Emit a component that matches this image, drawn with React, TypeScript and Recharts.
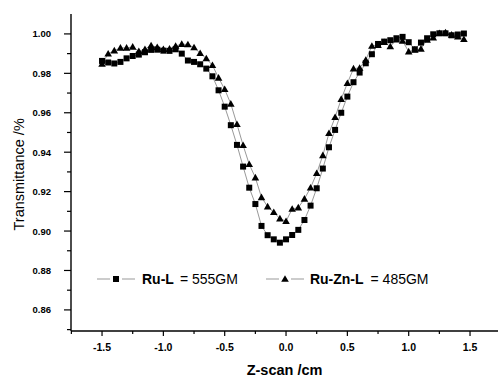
import React from 'react';
import { LineChart, Line, XAxis, YAxis, Legend } from 'recharts';

// z position of each scan point (cm)
const zScan = [
  -1.5, -1.45, -1.4, -1.35, -1.3, -1.25, -1.2, -1.15, -1.1, -1.05,
  -1.0, -0.95, -0.9, -0.85, -0.8, -0.75, -0.7, -0.65, -0.6, -0.55,
  -0.5, -0.45, -0.4, -0.35, -0.3, -0.25, -0.2, -0.15, -0.1, -0.05,
  0.0, 0.05, 0.1, 0.15, 0.2, 0.25, 0.3, 0.35, 0.4, 0.45,
  0.5, 0.55, 0.6, 0.65, 0.7, 0.75, 0.8, 0.85, 0.9, 0.95,
  1.0, 1.05, 1.1, 1.15, 1.2, 1.25, 1.3, 1.35, 1.4, 1.45,
];

const ruL = [
  0.9863, 0.9855, 0.985, 0.9858, 0.9876, 0.9888, 0.9895, 0.9907, 0.9919, 0.992,
  0.9915, 0.9914, 0.9922, 0.99, 0.9865, 0.9858, 0.9846, 0.9824, 0.9785, 0.9714,
  0.9631, 0.9537, 0.9437, 0.9327, 0.922, 0.9137, 0.9026, 0.8979, 0.8958, 0.8941,
  0.8958, 0.898, 0.9006, 0.9056, 0.9129, 0.9217, 0.9317, 0.9425, 0.9513, 0.96,
  0.9682, 0.9755, 0.9804, 0.9851, 0.9897, 0.9949, 0.9961, 0.9968, 0.9978, 0.9985,
  0.9958, 0.9922, 0.9956, 0.9978, 0.9998, 1.0003, 1.0003, 0.9993, 0.9997, 1.0002,
];

const ruZnL = [
  0.9848, 0.9899, 0.9915, 0.9929, 0.9929, 0.9934, 0.9912, 0.9922, 0.9941, 0.9932,
  0.9922, 0.9924, 0.9939, 0.9948, 0.9946, 0.9931, 0.9902, 0.9875, 0.9841, 0.9777,
  0.9719, 0.9645, 0.9542, 0.9435, 0.9339, 0.9271, 0.9171, 0.9124, 0.9095, 0.9063,
  0.905, 0.9112, 0.9119, 0.9163, 0.922, 0.9293, 0.9384, 0.9496, 0.9577, 0.9669,
  0.975, 0.9824, 0.9827, 0.9868, 0.9939, 0.9943, 0.9958, 0.9936, 0.9971, 0.9964,
  0.991, 0.9919, 0.9924, 0.997, 0.9981, 1.0003, 1.0007, 0.9995, 0.9986, 0.9973,
];

const xTicks = [-1.75, -1.5, -1.25, -1.0, -0.75, -0.5, -0.25, 0, 0.25, 0.5, 0.75, 1.0, 1.25, 1.5];
const yTicks = [0.85, 0.86, 0.87, 0.88, 0.89, 0.9, 0.91, 0.92, 0.93, 0.94, 0.95, 0.96, 0.97, 0.98, 0.99, 1.0];

const data = zScan.map((z, i) => ({ z, ruL: ruL[i], ruZnL: ruZnL[i] }));

const FONT = '"Liberation Sans", Arial, sans-serif';

const isMajor = (v: number, step: number) => Math.abs(Math.round(v / step) * step - v) < 1e-6;

const XTick = (props: any) => {
  const { x, y, payload } = props;
  const major = isMajor(payload.value, 0.5);
  return (
    <g>
      <line x1={x} x2={x} y1={y} y2={y + (major ? 5 : 3)} stroke="#000" strokeWidth={1.2} />
      {major && (
        <text x={x} y={y + 20} textAnchor="middle" fontSize={10.5} fontWeight="bold" fontFamily={FONT} fill="#000">
          {payload.value.toFixed(1)}
        </text>
      )}
    </g>
  );
};

const YTick = (props: any) => {
  const { x, y, payload } = props;
  const major = isMajor(payload.value, 0.02);
  return (
    <g>
      <line x1={x - (major ? 7 : 4)} x2={x} y1={y} y2={y} stroke="#000" strokeWidth={1.2} />
      {major && (
        <text x={x - 20} y={y + 3.5} textAnchor="end" fontSize={9.5} fontWeight="bold" fontFamily={FONT} fill="#000">
          {payload.value.toFixed(2)}
        </text>
      )}
    </g>
  );
};

const SquareDot = (props: any) => {
  const { cx, cy, index } = props;
  if (cx == null || cy == null) return <g key={index} />;
  return <rect key={index} x={cx - 3} y={cy - 3} width={6} height={6} fill="#000" />;
};

const TriangleDot = (props: any) => {
  const { cx, cy, index } = props;
  if (cx == null || cy == null) return <g key={index} />;
  return <path key={index} d={`M${cx},${cy - 3.8} L${cx + 3.8},${cy + 2.8} L${cx - 3.8},${cy + 2.8} Z`} fill="#000" />;
};

const LegendMark = ({ shape }: { shape: 'square' | 'triangle' }) => (
  <svg width={38} height={12} style={{ display: 'block' }}>
    <line x1={0} x2={13} y1={6} y2={6} stroke="#999" strokeWidth={1} />
    <line x1={25} x2={38} y1={6} y2={6} stroke="#999" strokeWidth={1} />
    {shape === 'square' ? (
      <rect x={16} y={3} width={6} height={6} fill="#000" />
    ) : (
      <path d="M19,2.2 L22.8,8.8 L15.2,8.8 Z" fill="#000" />
    )}
  </svg>
);

const renderLegend = () => (
  <div style={{ display: 'flex', alignItems: 'center', fontFamily: FONT, fontSize: 14, color: '#000', whiteSpace: 'nowrap' }}>
    <LegendMark shape="square" />
    <span style={{ fontWeight: 'bold', marginLeft: 7 }}>Ru-L</span>
    <span style={{ marginLeft: 6 }}>= 555GM</span>
    <span style={{ width: 28 }} />
    <LegendMark shape="triangle" />
    <span style={{ fontWeight: 'bold', marginLeft: 6 }}>Ru-Zn-L</span>
    <span style={{ marginLeft: 7 }}>= 485GM</span>
  </div>
);

export default function App() {
  return (
    <div style={{ position: 'absolute', left: 0, top: 0, background: '#fff' }}>
      <LineChart width={498} height={378} data={data} margin={{ top: 14, right: 0, bottom: 0, left: 11 }}>
        <XAxis
          dataKey="z"
          type="number"
          domain={[-1.753, 1.728]}
          ticks={xTicks}
          interval={0}
          allowDataOverflow
          height={47}
          tickSize={0}
          tickMargin={0}
          tickLine={false}
          tick={<XTick />}
          axisLine={{ stroke: '#000', strokeWidth: 1.4 }}
          label={{ value: 'Z-scan /cm', position: 'insideBottom', offset: 3, fontSize: 14.5, fontWeight: 'bold', fontFamily: FONT, fill: '#000' }}
        />
        <XAxis
          xAxisId="top"
          orientation="top"
          dataKey="z"
          type="number"
          domain={[-1.753, 1.728]}
          height={0}
          tick={false}
          tickLine={false}
          axisLine={{ stroke: '#666', strokeWidth: 1 }}
        />
        <YAxis
          type="number"
          domain={[0.8493, 1.0101]}
          ticks={yTicks}
          interval={0}
          allowDataOverflow
          width={60}
          tickSize={0}
          tickMargin={0}
          tickLine={false}
          tick={<YTick />}
          axisLine={{ stroke: '#000', strokeWidth: 1.4 }}
          label={{ value: 'Transmittance /%', angle: -90, position: 'insideLeft', offset: 8, dy: 58, fontSize: 14.5, fontFamily: FONT, fill: '#000' }}
        />
        <Legend
          layout="horizontal"
          verticalAlign="middle"
          content={renderLegend}
          wrapperStyle={{ left: 97, top: 271, width: 'auto' }}
        />
        <Line
          dataKey="ruL"
          stroke="#999"
          strokeWidth={1}
          dot={<SquareDot />}
          activeDot={false}
          isAnimationActive={false}
        />
        <Line
          dataKey="ruZnL"
          stroke="#999"
          strokeWidth={1}
          dot={<TriangleDot />}
          activeDot={false}
          isAnimationActive={false}
        />
      </LineChart>
    </div>
  );
}
